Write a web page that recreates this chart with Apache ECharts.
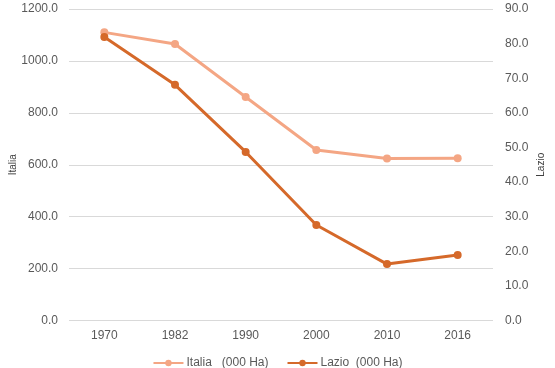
<!DOCTYPE html>
<html><head><meta charset="utf-8">
<script src="https://cdn.jsdelivr.net/npm/echarts@6/dist/echarts.min.js"></script>
<style>html,body{margin:0;padding:0;background:#fff}#c{width:555px;height:368px}</style>
</head><body><div id="c"></div>
<script>
var categories = ['1970','1982','1990','2000','2010','2016'];
var italia = [1110, 1065, 861, 657, 624, 625];
var lazio = [81.9, 68.1, 48.7, 27.6, 16.3, 18.9];
var italiaName = 'Italia   (000 Ha)';
var lazioName = 'Lazio  (000 Ha)';

var chart = echarts.init(document.getElementById('c'));
var font = 'Liberation Sans, Arial, sans-serif';
chart.setOption({
  animation: false,
  textStyle: {fontFamily: font},
  grid: {left: 69, right: 62, top: 9, bottom: 47.5, containLabel: false, outerBoundsMode: 'none'},
  legend: {
    top: 352, left: 'center', itemWidth: 30, itemHeight: 8, itemGap: 18,
    textStyle: {color: '#595959', fontSize: 12, fontFamily: font, padding: [0,0,0,-2]},
    data: [italiaName, lazioName]
  },
  xAxis: {
    type: 'category', data: categories, boundaryGap: true,
    axisLine: {show: false}, axisTick: {show: false},
    axisLabel: {color: '#595959', fontSize: 12, margin: 9}
  },
  yAxis: [
    {type: 'value', min: 0, max: 1200, interval: 200, name: 'Italia',
     nameLocation: 'middle', nameGap: 51, nameMoveOverlap: false, nameTextStyle: {color: '#404040', fontSize: 10},
     axisLabel: {color: '#595959', fontSize: 12, margin: 11, formatter: function(v){return v.toFixed(1);}},
     axisLine: {show: false}, axisTick: {show: false},
     splitLine: {lineStyle: {color: '#d9d9d9', width: 1}}},
    {type: 'value', min: 0, max: 90, interval: 10, name: 'Lazio', position: 'right',
     nameLocation: 'middle', nameGap: 43, nameRotate: 90, nameMoveOverlap: false, nameTextStyle: {color: '#404040', fontSize: 10},
     axisLabel: {color: '#595959', fontSize: 12, margin: 12, formatter: function(v){return v.toFixed(1);}},
     axisLine: {show: false}, axisTick: {show: false}, splitLine: {show: false}}
  ],
  series: [
    {name: italiaName, type: 'line', yAxisIndex: 0, data: italia,
     symbol: 'circle', symbolSize: 8,
     lineStyle: {color: '#F4A684', width: 3}, itemStyle: {color: '#F4A684'}},
    {name: lazioName, type: 'line', yAxisIndex: 1, data: lazio,
     symbol: 'circle', symbolSize: 8,
     lineStyle: {color: '#D5692A', width: 3}, itemStyle: {color: '#D5692A'}}
  ]
});
</script></body></html>
